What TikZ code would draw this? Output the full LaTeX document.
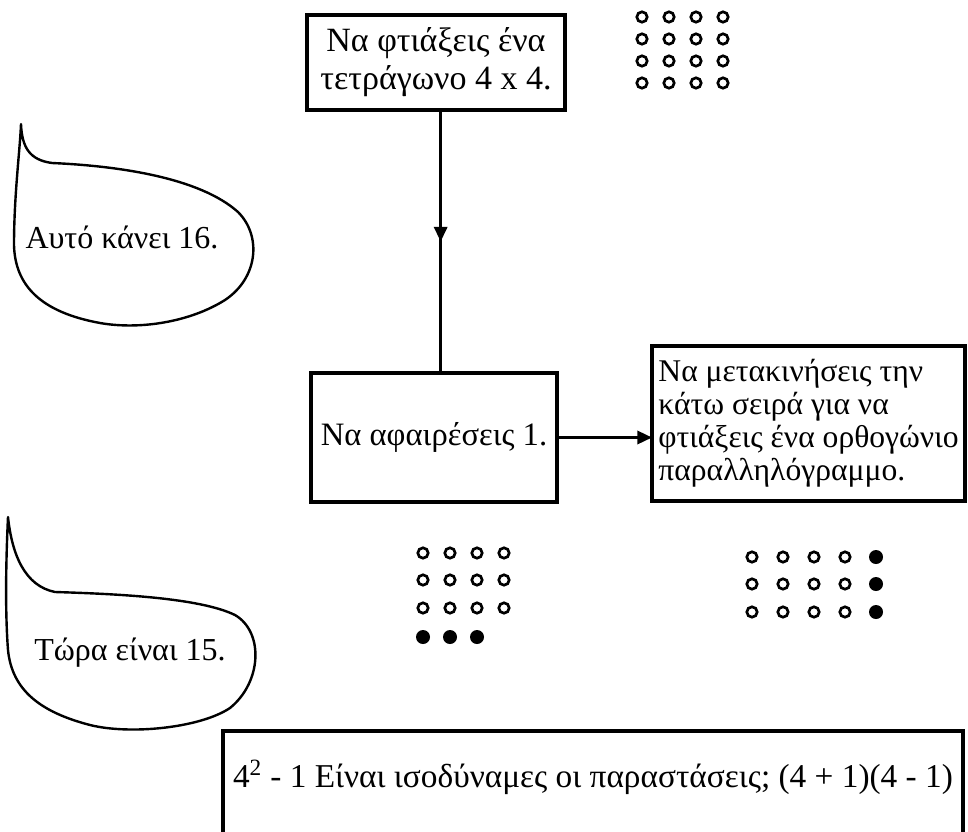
\documentclass[tikz,border=0pt]{standalone}
\usepackage{fontspec}
\setmainfont{Liberation Serif}
\usetikzlibrary{arrows.meta,decorations.markings}
\begin{document}
\begin{tikzpicture}[x=0.75pt,y=-0.75pt,
  box/.style={draw, line width=3pt, inner sep=0pt, outer sep=0pt},
  conn/.style={line width=1.8pt},
  headtip/.style={-{Triangle[length=11pt,width=10pt]}},
  bubble/.style={line width=1.8pt, line join=round},
  ring/.style={draw, line width=2pt},
  txt/.style={font=\fontsize{24.5}{28}\selectfont}]
\clip (0,0) rectangle (968,832);

% flow boxes
\node[box, align=center, minimum width=193.5pt, minimum height=71.25pt,
      font=\fontsize{25.5}{28.5}\selectfont] (square) at (436,62.5)
  {Να φτιάξεις ένα\\τετράγωνο 4 x 4.};
\node[box, txt, minimum width=184.5pt, minimum height=96.75pt] (subtract) at (434,437.5)
  {Να αφαιρέσεις 1.};
\node[box, align=left, minimum width=234.75pt, minimum height=116.25pt,
      font=\fontsize{23.7}{24.75}\selectfont] (move) at (808.5,423.5)
  {Να μετακινήσεις την\\κάτω σειρά για να\\φτιάξεις ένα ορθογώνιο\\παραλληλόγραμμο.};
\node[box, minimum width=555pt, minimum height=89.25pt] (eqbox) at (593,790.5) {};
\node[font=\fontsize{25}{28}\selectfont] (eq) at (593,777)
  {4\textsuperscript{2} - 1 Είναι ισοδύναμες οι παραστάσεις; (4 + 1)(4 - 1)};

% connectors
\coordinate (down) at ([xshift=3.5pt]square.south);
\draw[conn, postaction=decorate, decoration={markings,
      mark=at position 0.5 with {\arrow{Triangle[length=11pt,width=10pt]}}}]
  (down) -- (down |- subtract.north);
\coordinate (movein) at (subtract.east -| move.west);
\draw[conn, headtip] (subtract.east) -- (movein);

% speech bubbles
\draw[bubble] (21,124) .. controls (22,148) and (30,160) .. (52,163)
  .. controls (120,166) and (200,178) .. (238,212)
  .. controls (262,236) and (258,278) .. (225,300)
  .. controls (190,322) and (140,330) .. (100,323)
  .. controls (40,312) and (15,285) .. (14,245)
  .. controls (14,195) and (20,150) .. (21,124) -- cycle;
\node[font=\fontsize{24}{28}\selectfont] (said16) at (122,237) {Αυτό κάνει 16.};

\draw[bubble] (8,517) .. controls (12,555) and (25,586) .. (55,592)
  .. controls (120,594) and (200,598) .. (235,615)
  .. controls (264,632) and (262,682) .. (230,708)
  .. controls (200,728) and (130,735) .. (90,725)
  .. controls (40,712) and (12,690) .. (8,650)
  .. controls (5,610) and (6,560) .. (8,517) -- cycle;
\node[font=\fontsize{24}{28}\selectfont] (said15) at (130,653) {Τώρα είναι 15.};

% 4 x 4 square of counters
\foreach \x in {642,669,696,723}
  \foreach \y in {17,39,61,83}
    \draw[ring] (\x,\y) circle[radius=5.2];

% square with one counter removed
\foreach \x in {423,450,477,504}
  \foreach \y in {553,580,608}
    \draw[ring] (\x,\y) circle[radius=5.2];
\foreach \x in {423,450,477}
  \fill (\x,637) circle[radius=7];

% rearranged rectangle
\foreach \x in {752,783,814,845}
  \foreach \y in {557,584,612}
    \draw[ring] (\x,\y) circle[radius=5.2];
\foreach \y in {557,584,612}
  \fill (876,\y) circle[radius=7];
\end{tikzpicture}
\end{document}
